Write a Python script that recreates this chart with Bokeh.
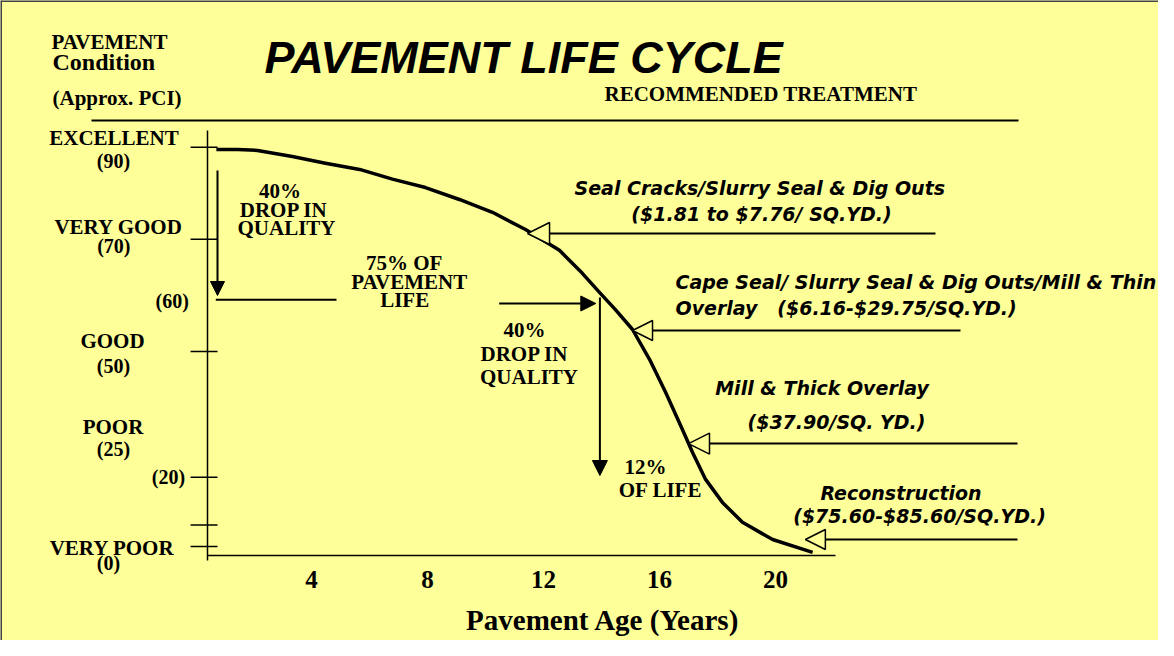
from bokeh.plotting import figure
from bokeh.models import Range1d, Arrow, NormalHead
from bokeh.core.properties import value
from bokeh.embed import file_html
from bokeh.resources import INLINE

# ---------------- data ----------------
# life-cycle curve: pavement age (years) vs condition level
age_years = [0.72, 1.45, 2.14, 3.34, 4.48, 5.66, 6.79, 7.93, 9.10, 10.24, 11.38,
             12.55, 13.34, 13.93, 14.48, 15.07, 15.66, 16.21, 16.79, 17.14, 17.59,
             18.17, 18.86, 19.90, 21.28]
condition = [90.0, 90.0, 89.8, 88.4, 86.9, 85.5, 83.3, 81.4, 78.7, 75.8, 71.9,
             67.2, 62.0, 57.7, 53.8, 49.3, 42.5, 35.1, 26.7, 21.5, 15.4,
             10.2, 5.7, 1.8, -1.1]

age_ticks = [4, 8, 12, 16, 20]
condition_names = ["EXCELLENT", "VERY GOOD", "GOOD", "POOR", "VERY POOR"]
condition_pci = ["(90)", "(70)", "(50)", "(25)", "(0)"]
tick_levels = [90.5, 69.7, 44.3, 15.9, 5.1, 0.2]

treatments = ["Seal Cracks/Slurry Seal & Dig Outs",
              "Cape Seal/ Slurry Seal & Dig Outs/Mill & Thin",
              "Mill & Thick Overlay",
              "Reconstruction"]
treatment_costs = ["($1.81 to $7.76/ SQ.YD.)",
                   "Overlay   ($6.16-$29.75/SQ.YD.)",
                   "($37.90/SQ. YD.)",
                   "($75.60-$85.60/SQ.YD.)"]
treatment_age = [11.45, 15.07, 17.0, 21.03]
treatment_level = [71.0, 49.07, 23.5, 1.8]

# ---------------- figure ----------------
BG = "#FFFF99"
PX_PER_UNIT = 4.422
X0, X1, Y0, Y1 = -6.724, 33.207, -21.031, 123.700
p = figure(width=1158, height=640,
           x_range=Range1d(X0, X1), y_range=Range1d(Y0, Y1),
           x_axis_type=None, y_axis_type=None,
           toolbar_location=None, output_backend="svg", min_border=0,
           background_fill_color=BG, border_fill_color=BG,
           outline_line_color=None)

SERIF = value("Liberation Serif")
SANS = value("Liberation Sans")
VERD = value("DejaVu Sans")


def txt(xs, ys, texts, font, style, size, align):
    lift = 0.35 * size / PX_PER_UNIT
    p.text(x=xs, y=[y + lift for y in ys],
           text=[t.replace("  ", "\u00a0\u00a0") for t in texts], text_font=font,
           text_font_style=style, text_font_size=f"{size}px",
           text_align=align, text_baseline="alphabetic", text_color="black")


# page frame (top and left edges)
p.segment(x0=[X0, X0], y0=[Y1, Y1], x1=[X1, X0], y1=[Y1, Y0], line_color="#444444", line_width=3)

# axes lines
p.segment(x0=[0.414], y0=[94.30], x1=[0.414], y1=[-2.94], line_color="black", line_width=1.5)
p.segment(x0=[0.414], y0=[-1.81], x1=[22.069], y1=[-1.81], line_color="black", line_width=1.5)
# header rule
p.segment(x0=[-3.586], y0=[96.56], x1=[28.379], y1=[96.56], line_color="black", line_width=2)
# ticks on condition axis
p.segment(x0=[-0.17] * len(tick_levels), x1=[0.76] * len(tick_levels),
          y0=tick_levels, y1=tick_levels, line_color="black", line_width=1.5)

# curve
p.line(age_years, condition, line_color="black", line_width=3.5, line_join="round")

# ---------------- texts ----------------
txt([2.379], [107.19], ["PAVEMENT LIFE CYCLE"], SANS, "bold italic", 45, "left")

txt([-4.966, -4.931, 14.103], [112.62, 99.95, 100.86],
    ["PAVEMENT", "(Approx. PCI)", "RECOMMENDED TREATMENT"], SERIF, "bold", 21, "left")
txt([-4.931], [107.87], ["Condition"], SERIF, "bold", 24, "left")

# condition axis labels
txt([-2.810, -2.655, -2.862, -2.845, -2.879], [90.91, 70.85, 45.00, 25.62, -1.70],
    condition_names, SERIF, "bold", 21, "center")
txt([-2.828, -2.817, -2.828, -2.828, -3.0], [85.71, 66.49, 39.57, 20.58, -4.98],
    condition_pci, SERIF, "bold", 20, "center")
txt([-0.803, -0.931], [54.27, 14.47], ["(60)", "(20)"], SERIF, "bold", 20, "center")

# age axis labels
txt(age_ticks, [-9.27] * len(age_ticks), [str(a) for a in age_ticks], SERIF, "bold", 25, "center")
txt([14.052], [-18.77], ["Pavement Age (Years)"], SERIF, "bold", 29, "center")

# in-chart notes
txt([2.914, 3.045, 3.138, 7.197, 7.369, 7.214, 11.345, 11.345, 11.5, 15.517, 16.034],
    [78.92, 74.63, 70.49, 62.57, 58.28, 54.27, 47.49, 41.99, 36.86, 16.58, 11.31],
    ["40%", "DROP IN", "QUALITY", "75% OF", "PAVEMENT", "LIFE",
     "40%", "DROP IN", "QUALITY", "12%", "OF LIFE"], SERIF, "bold", 21, "center")

# treatments
txt([13.069, 16.552, 17.921], [79.90, 58.57, 34.67], treatments[:3], VERD, "bold italic", 19, "left")
txt([24.328], [10.92], treatments[3:], VERD, "bold italic", 19, "center")
txt([19.517, 24.966], [73.95, 5.65], [treatment_costs[0], treatment_costs[3]],
    VERD, "bold italic", 19, "center")
txt([16.552, 19.034], [52.76, 26.91], [treatment_costs[1], treatment_costs[2]],
    VERD, "bold italic", 19, "left")


# ---------------- arrows ----------------
def solid_arrow(x0, y0, x1, y1, size):
    p.add_layout(Arrow(end=NormalHead(size=size, fill_color="black", line_color="black",
                                      line_width=1),
                       x_start=x0, y_start=y0, x_end=x1, y_end=y1,
                       line_color="black", line_width=2))


solid_arrow(0.759, 85.26, 0.759, 56.99, 14)
p.segment(x0=[0.70], y0=[56.01], x1=[4.862], y1=[56.01], line_color="black", line_width=2)
solid_arrow(10.472, 55.18, 13.803, 55.18, 15)
solid_arrow(13.945, 56.54, 13.945, 16.28, 15)

starts = [25.517, 26.379, 28.345, 28.345]
sizes = [22, 20, 21, 20]
for xs, xt, yt, sz in zip(starts, treatment_age, treatment_level, sizes):
    p.add_layout(Arrow(end=NormalHead(size=sz, fill_color=BG, line_color="black",
                                      line_width=1.5),
                       x_start=xs, y_start=yt, x_end=xt, y_end=yt,
                       line_color="black", line_width=2))

open("out.html", "w").write(file_html(p, INLINE))
